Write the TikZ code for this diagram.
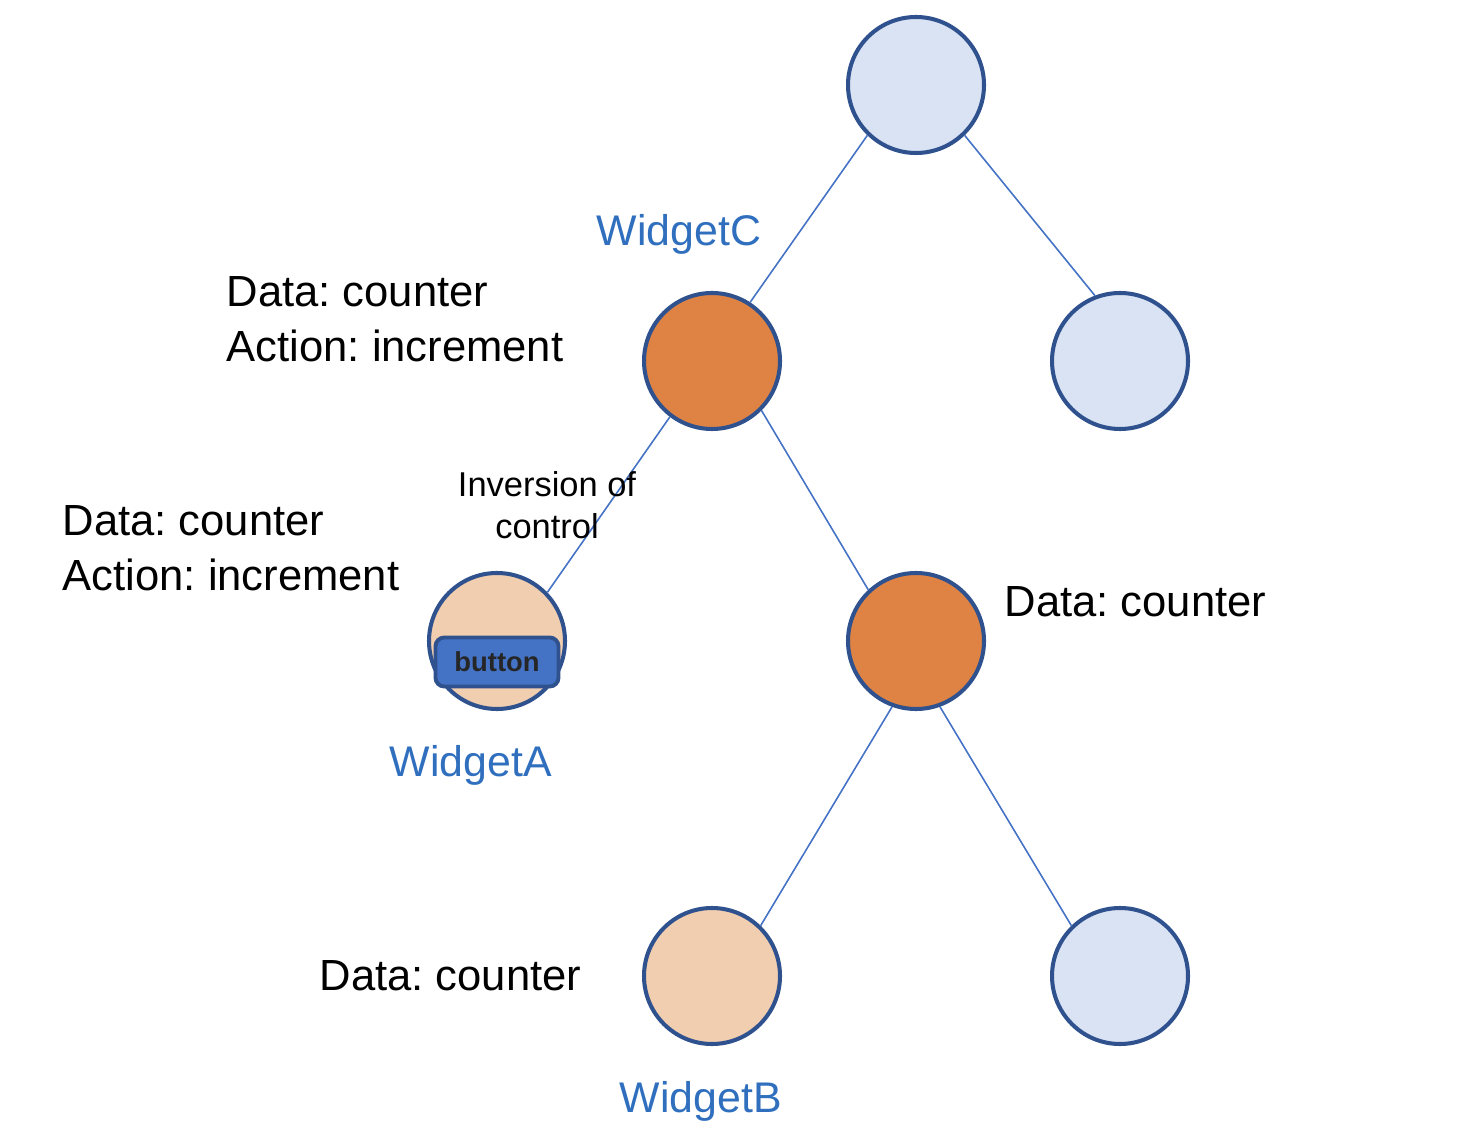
\documentclass[tikz,border=0pt]{standalone}
\usepackage{fontspec}
\setmainfont{Liberation Sans}
\usetikzlibrary{positioning}
\definecolor{rim}{HTML}{2F528F}
\definecolor{link}{HTML}{4472C4}
\definecolor{pale}{HTML}{DAE3F3}
\definecolor{hot}{HTML}{DF8344}
\definecolor{peach}{HTML}{F2CEB0}
\definecolor{widgetblue}{HTML}{2F6FBE}
\frenchspacing

\begin{document}
\begin{tikzpicture}[
    comp/.style={circle, draw=rim, line width=1.15pt, minimum size=1.36cm, inner sep=0pt},
    info/.style={anchor=west, align=left, inner sep=0pt, font=\fontsize{12.4}{15.6}\selectfont},
    wname/.style={inner sep=0pt, text=widgetblue, font=\fontsize{12.2}{14}\selectfont},
    wire/.style={draw=link, line width=0.45pt}
]
    \useasboundingbox (0,0) rectangle (14.64,-11.38);
    % Nodes
    \node[comp, fill=pale] (root) at (9.16,-0.85) {};
    \node[comp, fill=hot] (wc) at (7.12,-3.61) {};
    \node[comp, fill=pale] (rt) at (11.20,-3.61) {};
    \node[comp, fill=peach] (wa) at (4.97,-6.41) {};
    \node[comp, fill=hot] (mid) at (9.16,-6.41) {};
    \node[comp, fill=peach] (wb) at (7.12,-9.76) {};
    \node[comp, fill=pale] (rb) at (11.20,-9.76) {};
    % Button inside WidgetA
    \node[draw=rim, fill=link, line width=1.1pt, rounded corners=2.5pt,
          minimum width=1.23cm, minimum height=0.49cm, inner sep=0pt,
          font=\fontsize{7.8}{9}\selectfont\bfseries, text=black!85] (btn) at (4.97,-6.62) {button};
    % Edges
    \draw[wire] (root.226) -- (wc.57);
    \draw[wire] (root.-46) -- (rt.111);
    \draw[wire] (wc.233) -- (wa.44);
    \draw[wire] (wc.-45) -- (mid.133);
    \draw[wire] (mid.250) -- (wb.46);
    \draw[wire] (mid.290) -- (rb.134);
    % Labels
    \node[wname] (lc) at (6.79,-2.34) {WidgetC};
    \node[wname] (la) at (4.71,-7.65) {WidgetA};
    \node[wname] (lb) at (7.01,-11.01) {WidgetB};
    \node[info] (ic) at (2.26,-3.19) {Data: counter\\Action: increment};
    \node[info] (ia) at (0.62,-5.48) {Data: counter\\Action: increment};
    \node[info] (im) at (10.04,-6.02) {Data: counter};
    \node[info] (ib) at (3.19,-9.76) {Data: counter};
    \node[align=center, inner sep=0pt, font=\fontsize{9.8}{12}\selectfont] (ioc) at (5.47,-5.05) {Inversion of\\control};
\end{tikzpicture}
\end{document}
